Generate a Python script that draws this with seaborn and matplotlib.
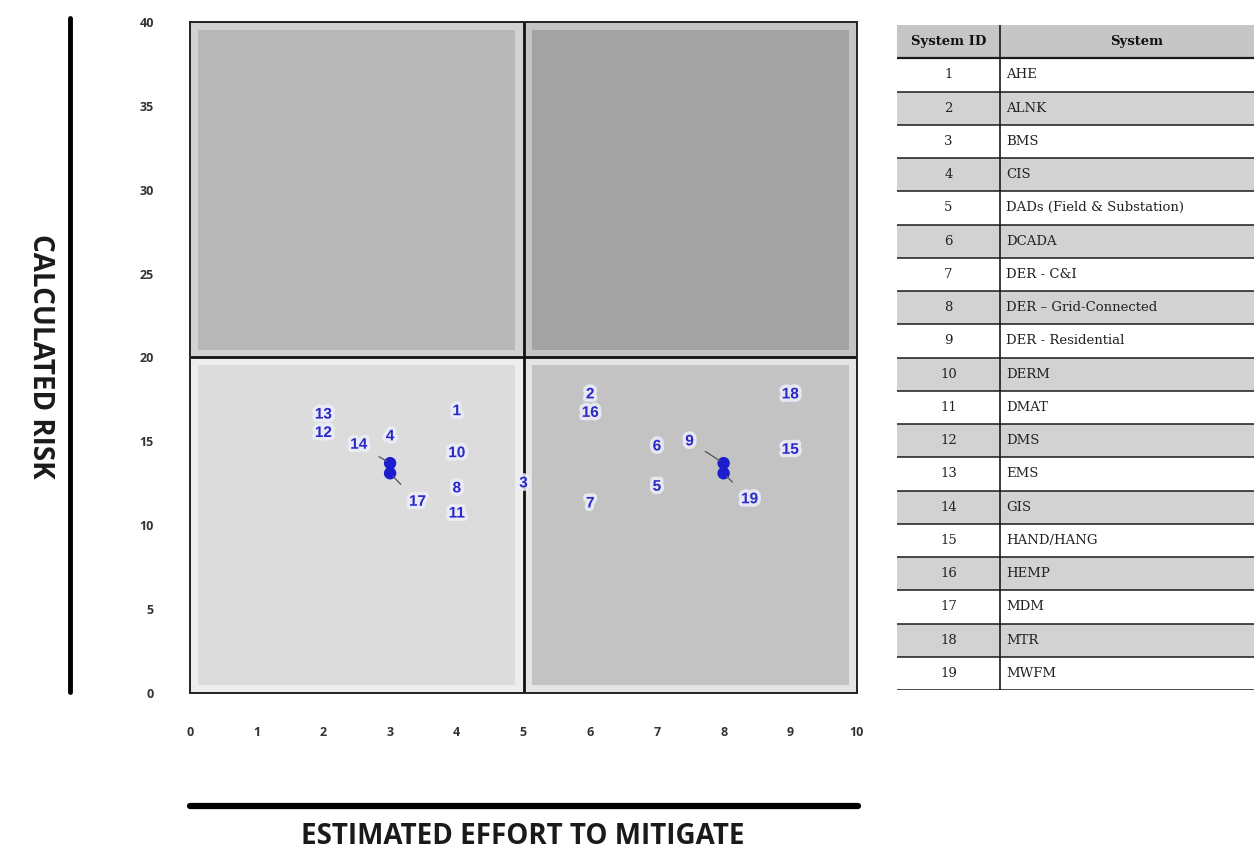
import matplotlib
matplotlib.use("Agg")
import matplotlib.pyplot as plt
import matplotlib.patheffects as pe
from matplotlib.patches import Rectangle
import seaborn as sns
import pandas as pd

# ---- data -------------------------------------------------------------
system_ids = list(range(1, 20))
system_names = [
    "AHE", "ALNK", "BMS", "CIS", "DADs (Field & Substation)", "DCADA",
    "DER - C&I", "DER \u2013 Grid-Connected", "DER - Residential", "DERM",
    "DMAT", "DMS", "EMS", "GIS", "HAND/HANG", "HEMP", "MDM", "MTR", "MWFM",
]
effort = [4, 6, 5, 3, 7, 7, 6, 4, 8, 4, 4, 2, 2, 3, 9, 6, 3, 9, 8]
risk = [16.8, 17.8, 12.5, 15.3, 12.3, 14.7, 11.3, 12.2, 13.7, 14.3,
        10.7, 15.5, 16.6, 13.7, 14.5, 16.7, 13.1, 17.8, 13.1]
x_ticks = list(range(0, 11))
y_ticks = list(range(0, 41, 5))

# labels that sit away from their point, joined by a leader line
label_shift = {9: (7.49, 15.0), 14: (2.53, 14.8), 17: (3.41, 11.4), 19: (8.39, 11.55)}

df = pd.DataFrame({"id": system_ids, "effort": effort, "risk": risk})

# ---- figure -------------------------------------------------------------
sns.set_style("white")
plt.rcParams["font.family"] = ["Open Sans", "DejaVu Sans"]

fig = plt.figure(figsize=(12.54, 8.51), dpi=100)
W, H = 1254, 851


def fig_box(x0, y0, x1, y1):
    return [x0 / W, 1 - y1 / H, (x1 - x0) / W, (y1 - y0) / H]


ax = fig.add_axes(fig_box(190, 22, 857, 693))
ax.set_xlim(0, 10)
ax.set_ylim(0, 40)

# quadrant backgrounds: (x0, y0, fill, rim)
quadrants = [
    (0, 20, "#b8b8b8", "#d2d2d2"),
    (5, 20, "#a3a3a3", "#c4c4c4"),
    (0, 0, "#dcdcdc", "#ededed"),
    (5, 0, "#c3c3c3", "#e4e4e4"),
]
for qx, qy, fill, rim in quadrants:
    ax.add_patch(Rectangle((qx, qy), 5, 20, facecolor=rim, edgecolor="none", zorder=0))
    ax.add_patch(Rectangle((qx + 0.12, qy + 0.45), 4.76, 19.1,
                           facecolor=fill, edgecolor="none", zorder=0.5))

ax.axvline(5, color="#111111", lw=2, zorder=1)
ax.axhline(20, color="#111111", lw=2, zorder=1)
for s in ax.spines.values():
    s.set_visible(True)
    s.set_color("#222222")
    s.set_linewidth(1.4)

# markers for points whose labels are moved aside
moved = df[df["id"].isin(label_shift.keys())]
sns.scatterplot(data=moved, x="effort", y="risk", ax=ax, color="#1c1cd0",
                s=80, edgecolor="none", zorder=4, legend=False)

ax.set_xticks(x_ticks)
ax.set_yticks(y_ticks)
ax.tick_params(length=0)
ax.tick_params(axis="x", pad=24)
ax.tick_params(axis="y", pad=26)
for lab in ax.get_xticklabels() + ax.get_yticklabels():
    lab.set_fontsize(9)
    lab.set_fontweight("bold")
    lab.set_color("#333333")
ax.set_xlabel("")
ax.set_ylabel("")

halo = [pe.withStroke(linewidth=5, foreground="#eeeefa", alpha=0.85)]
text_kw = dict(color="#2a2ac8", fontsize=11, fontweight="bold", ha="center",
               va="center", zorder=5, family=["Liberation Sans", "DejaVu Sans"])
for sid, ex, rk in zip(df["id"], df["effort"], df["risk"]):
    if sid in label_shift:
        tx, ty = label_shift[sid]
        t = ax.annotate(str(sid), xy=(ex, rk), xytext=(tx, ty),
                        arrowprops=dict(arrowstyle="-", color="#555555", lw=0.9,
                                        shrinkA=7, shrinkB=3),
                        **text_kw)
    else:
        t = ax.text(ex, rk, str(sid), **text_kw)
    t.set_path_effects(halo)

# axis titles with long bars
fig.add_artist(plt.Line2D([70 / W, 70 / W], [1 - 18 / H, 1 - 692 / H],
                          color="black", lw=3.5))
fig.add_artist(plt.Line2D([190 / W, 858 / W], [1 - 806 / H, 1 - 806 / H],
                          color="black", lw=4.5))
fig.text(40 / W, 1 - 356 / H, "CALCULATED RISK", rotation=270, ha="center",
         va="center", fontsize=20, fontweight="bold", color="#1a1a1a")
fig.text(523 / W, 1 - 836 / H, "ESTIMATED EFFORT TO MITIGATE", ha="center",
         va="center", fontsize=20, fontweight="bold", color="#1a1a1a")

# ---- lookup table -------------------------------------------------------
tx0, tx1 = 897, 1290
tax = fig.add_axes(fig_box(tx0, 25, tx1, 690))
tax.set_xlim(0, tx1 - tx0)
tax.set_ylim(len(system_ids) + 1, 0)
tax.axis("off")
col_split = 1000 - tx0
ncols_w = tx1 - tx0

tax.add_patch(Rectangle((0, 0), ncols_w, 1, facecolor="#c6c6c6", edgecolor="none"))
for i in range(len(system_ids)):
    row = i + 1
    if (i + 1) % 2 == 0:
        tax.add_patch(Rectangle((0, row), ncols_w, 1, facecolor="#d2d2d2",
                                edgecolor="none"))
for r in range(1, len(system_ids) + 2):
    tax.plot([0, ncols_w], [r, r], color="#1a1a1a", lw=1.6 if r == 1 else 1.1)
tax.plot([col_split, col_split], [0, len(system_ids) + 1], color="#1a1a1a", lw=1.2)

serif = ["DejaVu Serif"]
tax.text(col_split / 2, 0.5, "System ID", ha="center", va="center", fontsize=9.5,
         fontweight="bold", family=serif, color="#111111")
tax.text((col_split + 1254 - tx0) / 2 + 10, 0.5, "System", ha="center", va="center",
         fontsize=9.5, fontweight="bold", family=serif, color="#111111")
for i, (sid, name) in enumerate(zip(system_ids, system_names)):
    row = i + 1.5
    tax.text(col_split / 2, row, str(sid), ha="center", va="center", fontsize=9.5,
             family=serif, color="#222222")
    tax.text(col_split + 6, row, name, ha="left", va="center", fontsize=9.5,
             family=serif, color="#222222")

fig.savefig("out.png", dpi=100, facecolor="white")
